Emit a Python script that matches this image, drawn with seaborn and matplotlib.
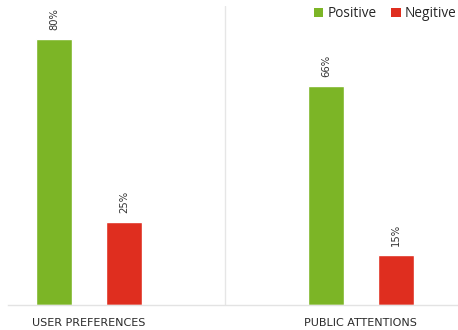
import matplotlib
matplotlib.use("Agg")
import matplotlib.pyplot as plt
import seaborn as sns
import pandas as pd
from matplotlib.patches import Patch

categories = ["USER PREFERENCES", "PUBLIC ATTENTIONS"]
series = ["Positive", "Negitive"]
positive = [80, 66]
negative = [25, 15]
colors = ["#7CB526", "#DF2E1F"]

df = pd.DataFrame({
    "category": categories * 2,
    "series": [series[0]] * 2 + [series[1]] * 2,
    "value": positive + negative,
})

sns.set_theme(style="white")
plt.rcParams["font.family"] = ["DejaVu Sans"]

W, H = 458, 330
fig = plt.figure(figsize=(W / 100, H / 100), dpi=100)
ax = fig.add_axes([8 / W, (H - 305) / H, 1 - 8 / W, 299 / H])

sns.barplot(data=df, x="category", y="value", hue="series", order=categories,
            hue_order=series, palette=colors, width=0.515, gap=0.486,
            saturation=1, ax=ax, legend=False)

ax.set_xlim(-0.298, 1.357)
ax.set_ylim(0, 90)
ax.set_xlabel("")
ax.set_ylabel("")
ax.set_yticks([])
for s in ["top", "right", "left"]:
    ax.spines[s].set_visible(False)
ax.spines["bottom"].set_color("#e3e3e3")
ax.spines["bottom"].set_linewidth(1)
ax.axvline(0.5, color="#e6e6e6", lw=1, zorder=0)
ax.tick_params(axis="x", length=0, pad=9, labelsize=8, labelcolor="#2a2a2a")

for cont in ax.containers:
    for bar in cont:
        h = bar.get_height()
        ax.annotate(f"{h:.0f}%", (bar.get_x() + bar.get_width() / 2, h),
                    xytext=(0, 6.5), textcoords="offset points",
                    rotation=90, ha="center", va="bottom", fontsize=7.2,
                    color="#333333")

handles = [Patch(facecolor=c, edgecolor="none") for c in colors]
fig.legend(handles, series, loc="upper left", bbox_to_anchor=(314 / W, 1 - 6 / H),
           ncol=2, frameon=False, borderpad=0, borderaxespad=0,
           handlelength=0.68, handleheight=0.68,
           handletextpad=0.3, columnspacing=1.1,
           prop={"family": "Open Sans", "size": 9.8})

fig.savefig("out.png", dpi=100)
